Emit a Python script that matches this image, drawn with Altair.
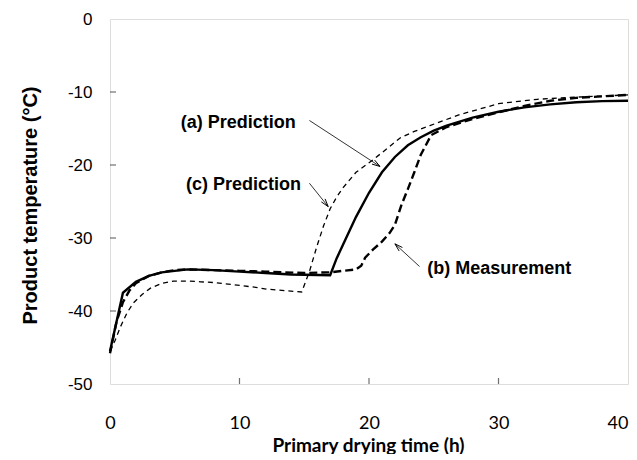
import math
import altair as alt
import pandas as pd

# (a) Prediction - solid
a_t = [0, 1, 2, 3, 4, 6, 8, 10, 12, 14, 17, 17.5, 18, 19, 20, 21, 22, 23, 24, 25, 26, 28, 30, 32, 34, 36, 38, 40]
a_temp = [-45.5, -37.5, -36.0, -35.2, -34.7, -34.3, -34.4, -34.6, -34.8, -35.0, -35.1, -32.8, -30.9, -27.1, -23.8,
          -21.0, -18.9, -17.3, -16.2, -15.3, -14.6, -13.5, -12.7, -12.1, -11.7, -11.4, -11.25, -11.2]

# (b) Measurement - thick dashed
b_t = [0, 0.5, 1, 1.5, 2, 3, 4, 5, 6, 8, 10, 12, 15, 17, 19, 19.4, 19.7, 20.3, 21, 21.6, 22, 22.5, 23, 23.5, 24,
       24.8, 26, 28, 30, 32, 34, 36, 38, 40]
b_temp = [-45.8, -41.5, -38.8, -37.2, -36.2, -35.2, -34.7, -34.4, -34.3, -34.4, -34.5, -34.6, -34.8, -34.7, -34.3,
          -33.8, -32.7, -31.6, -30.5, -29.3, -28.2, -25.5, -23.3, -21.0, -18.6, -15.9, -14.8, -13.7, -12.8, -11.9,
          -11.2, -10.8, -10.6, -10.4]

# (c) Prediction - thin dashed
c_t = [0, 0.4, 0.8, 1.3, 1.8, 2.5, 3.1, 4, 4.9, 6, 7, 8, 9.5, 11, 12.1, 13.5, 14.8, 15.4, 16, 16.5, 17, 17.5, 18,
       19, 20.3, 21.5, 22.4, 23.5, 24.7, 27, 30, 33, 36, 40]
c_temp = [-45.5, -44.0, -42.2, -40.3, -38.9, -37.7, -36.9, -36.2, -35.9, -35.9, -36.0, -36.1, -36.4, -36.7, -37.0,
          -37.2, -37.4, -34.6, -31.0, -28.3, -26.0, -24.4, -23.1, -21.0, -19.3, -17.6, -16.3, -15.4, -14.6, -13.1,
          -11.6, -11.0, -10.7, -10.4]

# Annotations
label_text = ["(a) Prediction", "(c) Prediction", "(b) Measurement"]
label_x = [9.9, 10.3, 24.5]
label_y = [-14.3, -22.7, -34.2]
label_align = ["center", "center", "left"]

arrow_x1 = [15.4, 15.4, 23.9]
arrow_y1 = [-13.9, -22.5, -33.9]
arrow_x2 = [20.85, 16.85, 22.0]
arrow_y2 = [-20.2, -25.7, -30.8]

x_ticks = [0, 10, 20, 30, 40]
y_ticks = [0, -10, -20, -30, -40, -50]
x_inner_ticks = [10, 20, 30]
y_inner_ticks = [-10, -20, -30, -40]

W, H = 518, 365
X_DOM = [0, 40]
Y_DOM = [-50, 0]
SANS = "Arial, Liberation Sans, sans-serif"

xs = alt.Scale(domain=X_DOM, nice=False, zero=False)
ys = alt.Scale(domain=Y_DOM, nice=False, zero=False)

px_x = W / (X_DOM[1] - X_DOM[0])
px_y = H / (Y_DOM[1] - Y_DOM[0])
angles = []
for x1, y1, x2, y2 in zip(arrow_x1, arrow_y1, arrow_x2, arrow_y2):
    phi = math.degrees(math.atan2(-(y2 - y1) * px_y, (x2 - x1) * px_x))
    angles.append((phi + 90) % 360)

df_a = pd.DataFrame({"t": a_t, "temp": a_temp})
df_b = pd.DataFrame({"t": b_t, "temp": b_temp})
df_c = pd.DataFrame({"t": c_t, "temp": c_temp})
df_arrow = pd.DataFrame({"x1": arrow_x1, "y1": arrow_y1, "x2": arrow_x2, "y2": arrow_y2, "ang": angles})

x_axis = alt.Axis(values=x_ticks, title="Primary drying time (h)", labelFont="Lato", labelFontSize=18,
                  labelPadding=30, labelColor="black", labelFlush=False, labelExpr="toString(datum.value)",
                  labelAlign=alt.condition(f"datum.value == {X_DOM[1]}", alt.value("right"), alt.value("center")),
                  ticks=False, tickSize=0, domain=False, grid=False,
                  titleFont="Lato", titleFontSize=19, titleFontWeight="bold", titleColor="black",
                  titleX=258, titleY=61, titleBaseline="middle", titleAlign="center")
y_axis = alt.Axis(values=y_ticks, title="Product temperature (°C)", labelFont=SANS, labelFontSize=17,
                  labelPadding=18, labelColor="black", labelFlush=False, labelExpr="toString(datum.value)",
                  ticks=False, tickSize=0, domain=False, grid=False,
                  titleFont=SANS, titleFontSize=20, titleFontWeight="bold", titleColor="black",
                  titleX=-80, titleY=186, titleAngle=270, titleBaseline="middle", titleAlign="center")

line_a = alt.Chart(df_a).mark_line(color="black", strokeWidth=2.4).encode(
    x=alt.X("t:Q", scale=xs, axis=x_axis),
    y=alt.Y("temp:Q", scale=ys, axis=y_axis),
    order="t:Q",
)
line_b = alt.Chart(df_b).mark_line(color="black", strokeWidth=2.4, strokeDash=[8, 4]).encode(
    x=alt.X("t:Q", scale=xs), y=alt.Y("temp:Q", scale=ys), order="t:Q")
line_c = alt.Chart(df_c).mark_line(color="black", strokeWidth=1.3, strokeDash=[5, 4]).encode(
    x=alt.X("t:Q", scale=xs), y=alt.Y("temp:Q", scale=ys), order="t:Q")

arrows = alt.Chart(df_arrow).mark_rule(color="black", strokeWidth=0.8).encode(
    x=alt.X("x1:Q", scale=xs), y=alt.Y("y1:Q", scale=ys), x2="x2:Q", y2="y2:Q")
heads = alt.Chart(df_arrow).mark_point(
    shape="M -0.6 2 L 0 0 L 0.6 2", size=64, filled=False, color="black", strokeWidth=0.9, opacity=1
).encode(x=alt.X("x2:Q", scale=xs), y=alt.Y("y2:Q", scale=ys), angle=alt.Angle("ang:Q", scale=None))

df_lab = pd.DataFrame({"x": label_x, "y": label_y, "txt": label_text, "al": label_align})
lab_center = alt.Chart(df_lab[df_lab["al"] == "center"]).mark_text(
    font=SANS, fontSize=18, fontWeight="bold", align="center", baseline="middle", color="black"
).encode(x=alt.X("x:Q", scale=xs), y=alt.Y("y:Q", scale=ys), text="txt:N")
lab_left = alt.Chart(df_lab[df_lab["al"] == "left"]).mark_text(
    font=SANS, fontSize=18, fontWeight="bold", align="left", baseline="middle", color="black"
).encode(x=alt.X("x:Q", scale=xs), y=alt.Y("y:Q", scale=ys), text="txt:N")

xt = alt.Chart(pd.DataFrame({"v": x_inner_ticks, "b": [Y_DOM[0]] * len(x_inner_ticks)})).mark_tick(
    orient="vertical", size=6, thickness=1.2, yOffset=-3, color="#333"
).encode(x=alt.X("v:Q", scale=xs), y=alt.Y("b:Q", scale=ys))
yt = alt.Chart(pd.DataFrame({"v": y_inner_ticks, "b": [X_DOM[0]] * len(y_inner_ticks)})).mark_tick(
    orient="horizontal", size=6, thickness=1.2, xOffset=3, color="#333"
).encode(y=alt.Y("v:Q", scale=ys), x=alt.X("b:Q", scale=xs))

chart = alt.layer(line_c, line_b, line_a, arrows, heads, lab_center, lab_left, xt, yt).properties(
    width=W, height=H,
    padding={"left": 102, "top": 11, "right": 1, "bottom": 70},
    autosize=alt.AutoSizeParams(type="none"),
).configure_view(stroke="black", strokeWidth=1.5).configure(background="white")

chart.save("out.html", embed_options={"renderer": "svg", "actions": False})
